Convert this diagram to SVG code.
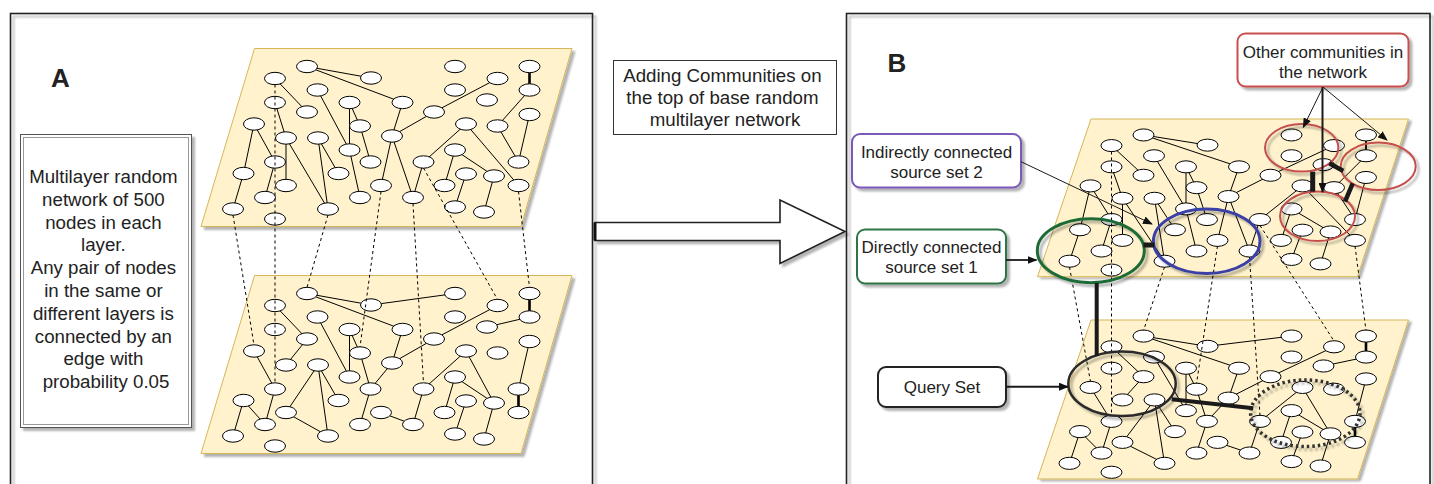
<svg xmlns="http://www.w3.org/2000/svg" width="1434" height="484" viewBox="0 0 1434 484">
<style>
  text{font-family:"Liberation Sans",Arial,Helvetica,sans-serif;fill:#222}
  .plane{fill:#fff2cc;stroke:#d6b656;stroke-width:1}
  .e{fill:none;stroke:#000;stroke-width:1}
  .tk{fill:none;stroke:#000;stroke-width:2.6}
  .n{fill:#fff;stroke:#000;stroke-width:1}
  .sc *{vector-effect:non-scaling-stroke}
  .il{fill:none;stroke:#000;stroke-width:1;stroke-dasharray:3 3}
  .panel{fill:none;stroke:#222;stroke-width:1.6}
  .lbl{font-size:17px;text-anchor:middle}
  .big{font-size:18.7px;text-anchor:middle}
  .bar{fill:none;stroke:#1a1a1a}
  .arr{fill:none;stroke:#1a1a1a;marker-end:url(#ah)}
  .box{fill:#fff;stroke-width:2}
</style>
<defs>
  <filter id="sh" x="-10%" y="-10%" width="130%" height="130%">
    <feGaussianBlur in="SourceAlpha" stdDeviation="1"/>
    <feOffset dx="2.5" dy="2.5"/>
    <feComponentTransfer><feFuncA type="linear" slope="0.3"/></feComponentTransfer>
    <feMerge><feMergeNode/><feMergeNode in="SourceGraphic"/></feMerge>
  </filter>
  <marker id="ah" viewBox="0 0 10 8" refX="9" refY="4" markerWidth="10" markerHeight="8" markerUnits="userSpaceOnUse" orient="auto">
    <path d="M0 0L10 4L0 8z" fill="#111"/>
  </marker>
</defs>
<rect width="1434" height="484" fill="#fff"/>

<!-- panel frames -->
<g id="frames">
  <rect class="panel" x="10.5" y="13.5" width="582" height="520" filter="url(#sh)"/>
  <rect class="panel" x="846.5" y="13.5" width="583.5" height="520" filter="url(#sh)"/>
</g>

<!-- ===== Panel A ===== -->
<text x="51" y="87" font-size="26" font-weight="bold">A</text>

<g id="descA">
  <rect x="20.5" y="134.5" width="171" height="293" fill="#fff" stroke="#555" filter="url(#sh)"/>
  <rect x="23.5" y="137.5" width="165" height="287" fill="none" stroke="#999"/>
  <text class="big" x="106">
    <tspan x="106" y="183">Multilayer random</tspan>
    <tspan x="106" y="205.8">network of 500</tspan>
    <tspan x="106" y="228.6">nodes in each</tspan>
    <tspan x="106" y="251.4">layer.</tspan>
    <tspan x="106" y="274.2">Any pair of nodes</tspan>
    <tspan x="106" y="297">in the same or</tspan>
    <tspan x="106" y="319.8">different layers is</tspan>
    <tspan x="106" y="342.6">connected by an</tspan>
    <tspan x="106" y="365.4">edge with</tspan>
    <tspan x="106" y="388.2">probability 0.05</tspan>
  </text>
</g>

<!-- A: upper layer -->
<g id="layerA-top" transform="translate(254.5 48.5)">
  <polygon class="plane" points="0,0 317.5,0 266.5,178 -53.5,178" filter="url(#sh)"/>
  <path class="e" d="M52.5 18L116.5 29.5M52.5 18L148 54M20.5 30L52.5 63.5M243 30L179.5 63.5L137.5 87.5M148 54L137.5 87.5M275 41.5L243 77.5L264 113.5M275 66L264 113.5M63 41.5L95 101.5M95 54L95 101.5M95 54L105.5 77.5L116 113.5M95 101.5L105.5 149M20.5 54L31.5 89.5L31.5 137M31.5 89.5L73.5 160.5M63.5 89.5L73.5 160.5M63.5 89.5L84 125M-0.5 75.5L-11 125L-21.5 160.5M-0.5 75.5L20.5 113.5L10.5 149M137.5 87.5L126.5 137M137.5 87.5L158.5 149L169 113.5L211.5 75.5L264 137M200.5 101.5L190 137M200.5 101.5L239.5 127.5L229.5 163.5M211.5 125.5L200.5 158.5"/>
  <path class="tk" d="M275 18V41.5"/>
  <g id="nodesA-top">
    <ellipse id="at1" class="n" cx="52.5" cy="18" rx="10.5" ry="6.2"/>
    <ellipse id="at2" class="n" cx="116.5" cy="29.5" rx="10.5" ry="6.2"/>
    <ellipse id="at3" class="n" cx="20.5" cy="30" rx="10.5" ry="6.2"/>
    <ellipse id="at4" class="n" cx="200.5" cy="18" rx="10.5" ry="6.2"/>
    <ellipse id="at5" class="n" cx="275" cy="18" rx="10.5" ry="6.2"/>
    <ellipse id="at6" class="n" cx="243" cy="30" rx="10.5" ry="6.2"/>
    <ellipse id="at7" class="n" cx="63" cy="41.5" rx="10.5" ry="6.2"/>
    <ellipse id="at8" class="n" cx="200.5" cy="41.5" rx="10.5" ry="6.2"/>
    <ellipse id="at9" class="n" cx="275" cy="41.5" rx="10.5" ry="6.2"/>
    <ellipse id="at10" class="n" cx="20.5" cy="54" rx="10.5" ry="6.2"/>
    <ellipse id="at11" class="n" cx="95" cy="54" rx="10.5" ry="6.2"/>
    <ellipse id="at12" class="n" cx="148" cy="54" rx="10.5" ry="6.2"/>
    <ellipse id="at13" class="n" cx="232.5" cy="51.5" rx="10.5" ry="6.2"/>
    <ellipse id="at14" class="n" cx="52.5" cy="63.5" rx="10.5" ry="6.2"/>
    <ellipse id="at15" class="n" cx="179.5" cy="63.5" rx="10.5" ry="6.2"/>
    <ellipse id="at16" class="n" cx="275" cy="66" rx="10.5" ry="6.2"/>
    <ellipse id="at17" class="n" cx="-0.5" cy="75.5" rx="10.5" ry="6.2"/>
    <ellipse id="at18" class="n" cx="105.5" cy="77.5" rx="10.5" ry="6.2"/>
    <ellipse id="at19" class="n" cx="211.5" cy="75.5" rx="10.5" ry="6.2"/>
    <ellipse id="at20" class="n" cx="243" cy="77.5" rx="10.5" ry="6.2"/>
    <ellipse id="at21" class="n" cx="31.5" cy="89.5" rx="10.5" ry="6.2"/>
    <ellipse id="at22" class="n" cx="63.5" cy="89.5" rx="10.5" ry="6.2"/>
    <ellipse id="at23" class="n" cx="137.5" cy="87.5" rx="10.5" ry="6.2"/>
    <ellipse id="at24" class="n" cx="95" cy="101.5" rx="10.5" ry="6.2"/>
    <ellipse id="at25" class="n" cx="200.5" cy="101.5" rx="10.5" ry="6.2"/>
    <ellipse id="at26" class="n" cx="20.5" cy="113.5" rx="10.5" ry="6.2"/>
    <ellipse id="at27" class="n" cx="116" cy="113.5" rx="10.5" ry="6.2"/>
    <ellipse id="at28" class="n" cx="169" cy="113.5" rx="10.5" ry="6.2"/>
    <ellipse id="at29" class="n" cx="264" cy="113.5" rx="10.5" ry="6.2"/>
    <ellipse id="at30" class="n" cx="-11" cy="125" rx="10.5" ry="6.2"/>
    <ellipse id="at31" class="n" cx="84" cy="125" rx="10.5" ry="6.2"/>
    <ellipse id="at32" class="n" cx="211.5" cy="125.5" rx="10.5" ry="6.2"/>
    <ellipse id="at33" class="n" cx="239.5" cy="127.5" rx="10.5" ry="6.2"/>
    <ellipse id="at34" class="n" cx="31.5" cy="137" rx="10.5" ry="6.2"/>
    <ellipse id="at35" class="n" cx="126.5" cy="137" rx="10.5" ry="6.2"/>
    <ellipse id="at36" class="n" cx="190" cy="137" rx="10.5" ry="6.2"/>
    <ellipse id="at37" class="n" cx="264" cy="137" rx="10.5" ry="6.2"/>
    <ellipse id="at38" class="n" cx="10.5" cy="149" rx="10.5" ry="6.2"/>
    <ellipse id="at39" class="n" cx="105.5" cy="149" rx="10.5" ry="6.2"/>
    <ellipse id="at40" class="n" cx="158.5" cy="149" rx="10.5" ry="6.2"/>
    <ellipse id="at41" class="n" cx="-21.5" cy="160.5" rx="10.5" ry="6.2"/>
    <ellipse id="at42" class="n" cx="73.5" cy="160.5" rx="10.5" ry="6.2"/>
    <ellipse id="at43" class="n" cx="200.5" cy="158.5" rx="10.5" ry="6.2"/>
    <ellipse id="at44" class="n" cx="229.5" cy="163.5" rx="10.5" ry="6.2"/>
    <ellipse id="at45" class="n" cx="20.5" cy="170.5" rx="10.5" ry="6.2"/>
  </g>
</g>

<!-- A: lower layer -->
<g id="layerA-bottom" transform="translate(254.5 275.5)">
  <polygon class="plane" points="0,0 317.5,0 266.5,178 -53.5,178" filter="url(#sh)"/>
  <path class="e" d="M116.5 29.5L52.5 18L148 54L137.5 87.5M116.5 29.5L200.5 18M275 41.5L232.5 51.5M243 30L179.5 63.5L137.5 87.5L116 113.5L105.5 149M20.5 30L52.5 63.5L31.5 89.5M63 41.5L95 101.5L95 54L105.5 77.5L116 113.5M-0.5 75.5L20.5 113.5L10.5 149L-11 125L-21.5 160.5M63.5 89.5L31.5 137L73.5 160.5L63.5 89.5L84 125M126.5 137L158.5 149L169 113.5L211.5 75.5L239.5 127.5L229.5 163.5M200.5 101.5L190 137M200.5 101.5L239.5 127.5M211.5 125.5L200.5 158.5M275 66L264 113.5"/>
  <path class="tk" d="M275 18V41.5M264 113.5V137"/>
  <g id="nodesA-bottom">
    <ellipse id="ab1" class="n" cx="52.5" cy="18" rx="10.5" ry="6.2"/>
    <ellipse id="ab2" class="n" cx="116.5" cy="29.5" rx="10.5" ry="6.2"/>
    <ellipse id="ab3" class="n" cx="20.5" cy="30" rx="10.5" ry="6.2"/>
    <ellipse id="ab4" class="n" cx="200.5" cy="18" rx="10.5" ry="6.2"/>
    <ellipse id="ab5" class="n" cx="275" cy="18" rx="10.5" ry="6.2"/>
    <ellipse id="ab6" class="n" cx="243" cy="30" rx="10.5" ry="6.2"/>
    <ellipse id="ab7" class="n" cx="63" cy="41.5" rx="10.5" ry="6.2"/>
    <ellipse id="ab8" class="n" cx="200.5" cy="41.5" rx="10.5" ry="6.2"/>
    <ellipse id="ab9" class="n" cx="275" cy="41.5" rx="10.5" ry="6.2"/>
    <ellipse id="ab10" class="n" cx="20.5" cy="54" rx="10.5" ry="6.2"/>
    <ellipse id="ab11" class="n" cx="95" cy="54" rx="10.5" ry="6.2"/>
    <ellipse id="ab12" class="n" cx="148" cy="54" rx="10.5" ry="6.2"/>
    <ellipse id="ab13" class="n" cx="232.5" cy="51.5" rx="10.5" ry="6.2"/>
    <ellipse id="ab14" class="n" cx="52.5" cy="63.5" rx="10.5" ry="6.2"/>
    <ellipse id="ab15" class="n" cx="179.5" cy="63.5" rx="10.5" ry="6.2"/>
    <ellipse id="ab16" class="n" cx="275" cy="66" rx="10.5" ry="6.2"/>
    <ellipse id="ab17" class="n" cx="-0.5" cy="75.5" rx="10.5" ry="6.2"/>
    <ellipse id="ab18" class="n" cx="105.5" cy="77.5" rx="10.5" ry="6.2"/>
    <ellipse id="ab19" class="n" cx="211.5" cy="75.5" rx="10.5" ry="6.2"/>
    <ellipse id="ab20" class="n" cx="243" cy="77.5" rx="10.5" ry="6.2"/>
    <ellipse id="ab21" class="n" cx="31.5" cy="89.5" rx="10.5" ry="6.2"/>
    <ellipse id="ab22" class="n" cx="63.5" cy="89.5" rx="10.5" ry="6.2"/>
    <ellipse id="ab23" class="n" cx="137.5" cy="87.5" rx="10.5" ry="6.2"/>
    <ellipse id="ab24" class="n" cx="95" cy="101.5" rx="10.5" ry="6.2"/>
    <ellipse id="ab25" class="n" cx="200.5" cy="101.5" rx="10.5" ry="6.2"/>
    <ellipse id="ab26" class="n" cx="20.5" cy="113.5" rx="10.5" ry="6.2"/>
    <ellipse id="ab27" class="n" cx="116" cy="113.5" rx="10.5" ry="6.2"/>
    <ellipse id="ab28" class="n" cx="169" cy="113.5" rx="10.5" ry="6.2"/>
    <ellipse id="ab29" class="n" cx="264" cy="113.5" rx="10.5" ry="6.2"/>
    <ellipse id="ab30" class="n" cx="-11" cy="125" rx="10.5" ry="6.2"/>
    <ellipse id="ab31" class="n" cx="84" cy="125" rx="10.5" ry="6.2"/>
    <ellipse id="ab32" class="n" cx="211.5" cy="125.5" rx="10.5" ry="6.2"/>
    <ellipse id="ab33" class="n" cx="239.5" cy="127.5" rx="10.5" ry="6.2"/>
    <ellipse id="ab34" class="n" cx="31.5" cy="137" rx="10.5" ry="6.2"/>
    <ellipse id="ab35" class="n" cx="126.5" cy="137" rx="10.5" ry="6.2"/>
    <ellipse id="ab36" class="n" cx="190" cy="137" rx="10.5" ry="6.2"/>
    <ellipse id="ab37" class="n" cx="264" cy="137" rx="10.5" ry="6.2"/>
    <ellipse id="ab38" class="n" cx="10.5" cy="149" rx="10.5" ry="6.2"/>
    <ellipse id="ab39" class="n" cx="105.5" cy="149" rx="10.5" ry="6.2"/>
    <ellipse id="ab40" class="n" cx="158.5" cy="149" rx="10.5" ry="6.2"/>
    <ellipse id="ab41" class="n" cx="-21.5" cy="160.5" rx="10.5" ry="6.2"/>
    <ellipse id="ab42" class="n" cx="73.5" cy="160.5" rx="10.5" ry="6.2"/>
    <ellipse id="ab43" class="n" cx="200.5" cy="158.5" rx="10.5" ry="6.2"/>
    <ellipse id="ab44" class="n" cx="229.5" cy="163.5" rx="10.5" ry="6.2"/>
    <ellipse id="ab45" class="n" cx="20.5" cy="170.5" rx="10.5" ry="6.2"/>
  </g>
</g>

<!-- A: inter-layer links -->
<g id="linksA">
  <path class="il" d="M233 215L254 345M275 84.5V383M328 215L307 287.5M381 191.5L360 347M413 203.5L423.5 383M423.5 168L497.5 299.5M518.5 191.5L529.5 287.5"/>
</g>

<!-- ===== Transition ===== -->
<g id="note-mid">
  <rect x="613.5" y="60.5" width="223" height="74" fill="#fff" stroke="#333"/>
  <text class="big">
    <tspan x="725" y="81.5">Adding Communities on</tspan>
    <tspan x="725" y="104">the top of base random</tspan>
    <tspan x="725" y="126">multilayer network</tspan>
  </text>
</g>
<g id="big-arrow">
  <polygon points="595,222.5 780,222.5 780,200 845,231.5 780,263.5 780,240.5 595,240.5" fill="#fff" stroke="#222" stroke-width="1.6" filter="url(#sh)"/>
  <path d="M595 222.5V240.5" stroke="#111" stroke-width="3"/>
</g>

<!-- ===== Panel B ===== -->
<text x="887.5" y="72" font-size="26" font-weight="bold">B</text>

<!-- B: upper layer -->
<g id="layerB-top" class="sc" transform="translate(1091 119) scale(1 0.886)">
  <polygon class="plane" points="0,0 317.5,0 266.5,178 -53.5,178" filter="url(#sh)"/>
  <path class="e" d="M52.5 18L116.5 29.5M52.5 18L148 54M20.5 30L52.5 63.5M243 30L179.5 63.5L137.5 87.5M148 54L137.5 87.5M275 41.5L243 77.5L264 113.5M275 66L264 113.5M63 41.5L95 101.5M95 54L95 101.5M95 54L105.5 77.5L116 113.5M95 101.5L105.5 149M20.5 54L31.5 89.5L31.5 137M31.5 89.5L73.5 160.5M63.5 89.5L73.5 160.5M63.5 89.5L84 125M-0.5 75.5L-11 125L-21.5 160.5M-0.5 75.5L20.5 113.5L10.5 149M137.5 87.5L126.5 137M137.5 87.5L158.5 149L169 113.5L211.5 75.5L264 137M200.5 101.5L190 137M200.5 101.5L239.5 127.5L229.5 163.5M211.5 125.5L200.5 158.5"/>
  <path class="e" style="stroke-width:1.8" d="M275 18V41.5"/>
  <g id="nodesB-top">
    <ellipse id="bt1" class="n" cx="52.5" cy="18" rx="10.5" ry="6.8"/>
    <ellipse id="bt2" class="n" cx="116.5" cy="29.5" rx="10.5" ry="6.8"/>
    <ellipse id="bt3" class="n" cx="20.5" cy="30" rx="10.5" ry="6.8"/>
    <ellipse id="bt4" class="n" cx="200.5" cy="18" rx="10.5" ry="6.8"/>
    <ellipse id="bt5" class="n" cx="275" cy="18" rx="10.5" ry="6.8"/>
    <ellipse id="bt6" class="n" cx="243" cy="30" rx="10.5" ry="6.8"/>
    <ellipse id="bt7" class="n" cx="63" cy="41.5" rx="10.5" ry="6.8"/>
    <ellipse id="bt8" class="n" cx="200.5" cy="41.5" rx="10.5" ry="6.8"/>
    <ellipse id="bt9" class="n" cx="275" cy="41.5" rx="10.5" ry="6.8"/>
    <ellipse id="bt10" class="n" cx="20.5" cy="54" rx="10.5" ry="6.8"/>
    <ellipse id="bt11" class="n" cx="95" cy="54" rx="10.5" ry="6.8"/>
    <ellipse id="bt12" class="n" cx="148" cy="54" rx="10.5" ry="6.8"/>
    <ellipse id="bt13" class="n" cx="232.5" cy="51.5" rx="10.5" ry="6.8"/>
    <ellipse id="bt14" class="n" cx="52.5" cy="63.5" rx="10.5" ry="6.8"/>
    <ellipse id="bt15" class="n" cx="179.5" cy="63.5" rx="10.5" ry="6.8"/>
    <ellipse id="bt16" class="n" cx="275" cy="66" rx="10.5" ry="6.8"/>
    <ellipse id="bt17" class="n" cx="-0.5" cy="75.5" rx="10.5" ry="6.8"/>
    <ellipse id="bt18" class="n" cx="105.5" cy="77.5" rx="10.5" ry="6.8"/>
    <ellipse id="bt19" class="n" cx="211.5" cy="75.5" rx="10.5" ry="6.8"/>
    <ellipse id="bt20" class="n" cx="243" cy="77.5" rx="10.5" ry="6.8"/>
    <ellipse id="bt21" class="n" cx="31.5" cy="89.5" rx="10.5" ry="6.8"/>
    <ellipse id="bt22" class="n" cx="63.5" cy="89.5" rx="10.5" ry="6.8"/>
    <ellipse id="bt23" class="n" cx="137.5" cy="87.5" rx="10.5" ry="6.8"/>
    <ellipse id="bt24" class="n" cx="95" cy="101.5" rx="10.5" ry="6.8"/>
    <ellipse id="bt25" class="n" cx="200.5" cy="101.5" rx="10.5" ry="6.8"/>
    <ellipse id="bt26" class="n" cx="20.5" cy="113.5" rx="10.5" ry="6.8"/>
    <ellipse id="bt27" class="n" cx="116" cy="113.5" rx="10.5" ry="6.8"/>
    <ellipse id="bt28" class="n" cx="169" cy="113.5" rx="10.5" ry="6.8"/>
    <ellipse id="bt29" class="n" cx="264" cy="113.5" rx="10.5" ry="6.8"/>
    <ellipse id="bt30" class="n" cx="-11" cy="125" rx="10.5" ry="6.8"/>
    <ellipse id="bt31" class="n" cx="84" cy="125" rx="10.5" ry="6.8"/>
    <ellipse id="bt32" class="n" cx="211.5" cy="125.5" rx="10.5" ry="6.8"/>
    <ellipse id="bt33" class="n" cx="239.5" cy="127.5" rx="10.5" ry="6.8"/>
    <ellipse id="bt34" class="n" cx="31.5" cy="137" rx="10.5" ry="6.8"/>
    <ellipse id="bt35" class="n" cx="126.5" cy="137" rx="10.5" ry="6.8"/>
    <ellipse id="bt36" class="n" cx="190" cy="137" rx="10.5" ry="6.8"/>
    <ellipse id="bt37" class="n" cx="264" cy="137" rx="10.5" ry="6.8"/>
    <ellipse id="bt38" class="n" cx="10.5" cy="149" rx="10.5" ry="6.8"/>
    <ellipse id="bt39" class="n" cx="105.5" cy="149" rx="10.5" ry="6.8"/>
    <ellipse id="bt40" class="n" cx="158.5" cy="149" rx="10.5" ry="6.8"/>
    <ellipse id="bt41" class="n" cx="-21.5" cy="160.5" rx="10.5" ry="6.8"/>
    <ellipse id="bt42" class="n" cx="73.5" cy="160.5" rx="10.5" ry="6.8"/>
    <ellipse id="bt43" class="n" cx="200.5" cy="158.5" rx="10.5" ry="6.8"/>
    <ellipse id="bt44" class="n" cx="229.5" cy="163.5" rx="10.5" ry="6.8"/>
    <ellipse id="bt45" class="n" cx="20.5" cy="170.5" rx="10.5" ry="6.8"/>
  </g>
</g>

<!-- B: lower layer -->
<g id="layerB-bottom" class="sc" transform="translate(1091 320) scale(1 0.893)">
  <polygon class="plane" points="0,0 317.5,0 266.5,178 -53.5,178" filter="url(#sh)"/>
  <path class="e" d="M116.5 29.5L52.5 18L148 54L137.5 87.5M116.5 29.5L200.5 18M275 41.5L232.5 51.5M243 30L179.5 63.5L137.5 87.5L116 113.5L105.5 149M20.5 30L52.5 63.5L31.5 89.5M63 41.5L95 101.5L95 54L105.5 77.5L116 113.5M-0.5 75.5L20.5 113.5L10.5 149L-11 125L-21.5 160.5M63.5 89.5L31.5 137L73.5 160.5L63.5 89.5L84 125M126.5 137L158.5 149L169 113.5L211.5 75.5L239.5 127.5L229.5 163.5M200.5 101.5L190 137M200.5 101.5L239.5 127.5M211.5 125.5L200.5 158.5M275 66L264 113.5"/>
  <path class="tk" d="M275 18V41.5M264 113.5V137"/>
  <g id="nodesB-bottom">
    <ellipse id="bb1" class="n" cx="52.5" cy="18" rx="10.5" ry="6.8"/>
    <ellipse id="bb2" class="n" cx="116.5" cy="29.5" rx="10.5" ry="6.8"/>
    <ellipse id="bb3" class="n" cx="20.5" cy="30" rx="10.5" ry="6.8"/>
    <ellipse id="bb4" class="n" cx="200.5" cy="18" rx="10.5" ry="6.8"/>
    <ellipse id="bb5" class="n" cx="275" cy="18" rx="10.5" ry="6.8"/>
    <ellipse id="bb6" class="n" cx="243" cy="30" rx="10.5" ry="6.8"/>
    <ellipse id="bb7" class="n" cx="63" cy="41.5" rx="10.5" ry="6.8"/>
    <ellipse id="bb8" class="n" cx="200.5" cy="41.5" rx="10.5" ry="6.8"/>
    <ellipse id="bb9" class="n" cx="275" cy="41.5" rx="10.5" ry="6.8"/>
    <ellipse id="bb10" class="n" cx="20.5" cy="54" rx="10.5" ry="6.8"/>
    <ellipse id="bb11" class="n" cx="95" cy="54" rx="10.5" ry="6.8"/>
    <ellipse id="bb12" class="n" cx="148" cy="54" rx="10.5" ry="6.8"/>
    <ellipse id="bb13" class="n" cx="232.5" cy="51.5" rx="10.5" ry="6.8"/>
    <ellipse id="bb14" class="n" cx="52.5" cy="63.5" rx="10.5" ry="6.8"/>
    <ellipse id="bb15" class="n" cx="179.5" cy="63.5" rx="10.5" ry="6.8"/>
    <ellipse id="bb16" class="n" cx="275" cy="66" rx="10.5" ry="6.8"/>
    <ellipse id="bb17" class="n" cx="-0.5" cy="75.5" rx="10.5" ry="6.8"/>
    <ellipse id="bb18" class="n" cx="105.5" cy="77.5" rx="10.5" ry="6.8"/>
    <ellipse id="bb19" class="n" cx="211.5" cy="75.5" rx="10.5" ry="6.8"/>
    <ellipse id="bb20" class="n" cx="243" cy="77.5" rx="10.5" ry="6.8"/>
    <ellipse id="bb21" class="n" cx="31.5" cy="89.5" rx="10.5" ry="6.8"/>
    <ellipse id="bb22" class="n" cx="63.5" cy="89.5" rx="10.5" ry="6.8"/>
    <ellipse id="bb23" class="n" cx="137.5" cy="87.5" rx="10.5" ry="6.8"/>
    <ellipse id="bb24" class="n" cx="95" cy="101.5" rx="10.5" ry="6.8"/>
    <ellipse id="bb25" class="n" cx="200.5" cy="101.5" rx="10.5" ry="6.8"/>
    <ellipse id="bb26" class="n" cx="20.5" cy="113.5" rx="10.5" ry="6.8"/>
    <ellipse id="bb27" class="n" cx="116" cy="113.5" rx="10.5" ry="6.8"/>
    <ellipse id="bb28" class="n" cx="169" cy="113.5" rx="10.5" ry="6.8"/>
    <ellipse id="bb29" class="n" cx="264" cy="113.5" rx="10.5" ry="6.8"/>
    <ellipse id="bb30" class="n" cx="-11" cy="125" rx="10.5" ry="6.8"/>
    <ellipse id="bb31" class="n" cx="84" cy="125" rx="10.5" ry="6.8"/>
    <ellipse id="bb32" class="n" cx="211.5" cy="125.5" rx="10.5" ry="6.8"/>
    <ellipse id="bb33" class="n" cx="239.5" cy="127.5" rx="10.5" ry="6.8"/>
    <ellipse id="bb34" class="n" cx="31.5" cy="137" rx="10.5" ry="6.8"/>
    <ellipse id="bb35" class="n" cx="126.5" cy="137" rx="10.5" ry="6.8"/>
    <ellipse id="bb36" class="n" cx="190" cy="137" rx="10.5" ry="6.8"/>
    <ellipse id="bb37" class="n" cx="264" cy="137" rx="10.5" ry="6.8"/>
    <ellipse id="bb38" class="n" cx="10.5" cy="149" rx="10.5" ry="6.8"/>
    <ellipse id="bb39" class="n" cx="105.5" cy="149" rx="10.5" ry="6.8"/>
    <ellipse id="bb40" class="n" cx="158.5" cy="149" rx="10.5" ry="6.8"/>
    <ellipse id="bb41" class="n" cx="-21.5" cy="160.5" rx="10.5" ry="6.8"/>
    <ellipse id="bb42" class="n" cx="73.5" cy="160.5" rx="10.5" ry="6.8"/>
    <ellipse id="bb43" class="n" cx="200.5" cy="158.5" rx="10.5" ry="6.8"/>
    <ellipse id="bb44" class="n" cx="229.5" cy="163.5" rx="10.5" ry="6.8"/>
    <ellipse id="bb45" class="n" cx="20.5" cy="170.5" rx="10.5" ry="6.8"/>
  </g>
</g>

<!-- B: inter-layer links -->
<g id="linksB">
  <path class="il" d="M1069.5 267L1090.5 381.5M1111.5 151.5V415.5M1164.5 267L1143.5 330.5M1217.5 246L1196.5 383.5M1249.5 257L1260 415.5M1260 225.5L1334 341M1355 246L1366 330.5"/>
</g>

<!-- B: community outlines -->
<g id="communities" fill="none" filter="url(#sh)">
  <ellipse id="c-source1" cx="1090.8" cy="250.7" rx="53.5" ry="32" stroke="#1f6a36" stroke-width="3"/>
  <ellipse id="c-source2" cx="1206.7" cy="241.2" rx="53.3" ry="32.2" stroke="#3b40a4" stroke-width="3"/>
  <ellipse id="c-other1" cx="1301.7" cy="147.8" rx="36.7" ry="23.8" stroke="#c4504e" stroke-width="2"/>
  <ellipse id="c-other2" cx="1378.2" cy="166.3" rx="37.5" ry="23.7" stroke="#c4504e" stroke-width="2"/>
  <ellipse id="c-other3" cx="1317.5" cy="216.3" rx="37.5" ry="24.7" stroke="#c4504e" stroke-width="2"/>
  <ellipse id="c-query" cx="1122" cy="383.8" rx="53.7" ry="32.2" stroke="#2a2a2a" stroke-width="2.5"/>
  <ellipse id="c-dotted" cx="1305.3" cy="413.3" rx="54.7" ry="33.3" stroke="#333" stroke-width="3.5" stroke-dasharray="2.5 3"/>
</g>

<!-- B: strong inter-community ties -->
<g id="ties" class="bar">
  <path d="M1329.3 163.3L1343.3 171" stroke-width="4.5"/>
  <path d="M1312.7 171.7V191.7" stroke-width="5"/>
  <path d="M1352.7 183.3L1345 201.7" stroke-width="4.5"/>
  <path d="M1143.5 245H1154.5" stroke-width="5"/>
  <path d="M1096.7 283V356" stroke-width="4"/>
  <path d="M1171.7 399.3L1253.3 408.3" stroke-width="4"/>
</g>

<!-- B: callouts -->
<g id="lbl-indirect">
  <rect class="box" x="852" y="134" width="169" height="53.5" rx="8" stroke="#7b58b8" filter="url(#sh)"/>
  <text class="lbl"><tspan x="936.5" y="157.5">Indirectly connected</tspan><tspan x="936.5" y="178">source set 2</tspan></text>
</g>
<g id="lbl-direct">
  <rect class="box" x="857" y="229.5" width="149" height="54" rx="8" stroke="#2d7545" filter="url(#sh)"/>
  <text class="lbl"><tspan x="931.5" y="252.5">Directly connected</tspan><tspan x="931.5" y="273">source set 1</tspan></text>
</g>
<g id="lbl-query">
  <rect class="box" x="878" y="367" width="128" height="40" rx="8" stroke="#222" filter="url(#sh)"/>
  <text class="lbl" x="942" y="392.5">Query Set</text>
</g>
<g id="lbl-other">
  <rect class="box" x="1237.5" y="33.5" width="171" height="53" rx="8" stroke="#c9504f" filter="url(#sh)"/>
  <text class="lbl"><tspan x="1323" y="57.8">Other communities in</tspan><tspan x="1323" y="77.8">the network</tspan></text>
</g>

<g id="connectors">
  <path class="arr" stroke-width="1" d="M1021 161.7L1152 224"/>
  <path class="arr" stroke-width="1.8" d="M1006 260H1036.5"/>
  <path class="arr" stroke-width="2" d="M1006 386.7H1068"/>
  <path class="arr" stroke-width="1" d="M1323 87L1303.3 127.3"/>
  <path class="arr" stroke-width="1" d="M1323 87L1387 140"/>
  <path class="arr" stroke-width="2" d="M1322.5 87V192"/>
</g>
</svg>
